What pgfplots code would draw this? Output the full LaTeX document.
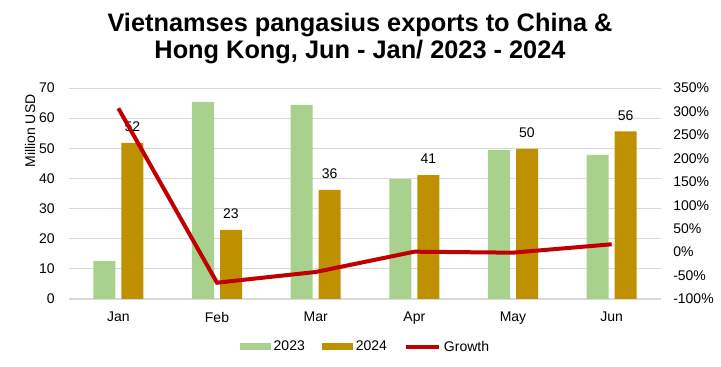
\documentclass[border=0pt]{standalone}
\usepackage{pgfplots}
\pgfplotsset{compat=1.18}
\usepackage{fontspec}
\setmainfont{Liberation Sans}
\definecolor{c23}{HTML}{A9D18E}
\definecolor{c24}{HTML}{BF9000}
\definecolor{cgr}{HTML}{C00000}
\definecolor{cgrid}{HTML}{D9D9D9}
\begin{document}
\begin{tikzpicture}[x=0.75pt,y=0.75pt]
\path[use as bounding box] (0,0) rectangle (721,367);
\node[font=\fontsize{19}{20.25}\selectfont\bfseries, align=center] at (360,328.5) {Vietnamses pangasius exports to China \&\\Hong Kong, Jun - Jan/ 2023 - 2024};
\node[rotate=90, font=\fontsize{10.5}{12}\selectfont] at (30,236) {Million USD};
\begin{axis}[
  at={(51.75pt,51pt)}, anchor=south west, scale only axis,
  width=444pt, height=158.25pt,
  xmin=-0.5, xmax=5.5, ymin=0, ymax=70,
  ytick={0,10,...,70},
  xtick=data, xticklabels={Jan,Feb,Mar,Apr,May,Jun},
  ybar=4.5pt, bar width=16.5pt,
  axis x line*=bottom, axis y line*=left,
  x axis line style={-, draw=cgrid, line width=1.5pt},
  y axis line style={draw=none},
  tick style={draw=none},
  ymajorgrids, grid style={cgrid, line width=0.75pt},
  /pgf/number format/assume math mode=true,
  tick label style={font=\fontsize{10.5}{12}\selectfont},
  yticklabel style={inner sep=0pt, xshift=-10.5pt},
  xticklabel style={inner sep=0pt, yshift=-5.5pt},
  legend style={at={(axis description cs:0.499,-0.2275)}, anchor=center, draw=none,
    legend columns=3, font=\fontsize{10.5}{12}\selectfont,
    nodes={inner sep=0pt},
    /tikz/every odd column/.append style={column sep=2.25pt},
    /tikz/every even column/.append style={column sep=12.75pt}},
]
\addplot[fill=c23, draw=none, legend image code/.code={\fill[c23] (0pt,-2.625pt) rectangle (23.25pt,2.625pt);}]
  coordinates {(0,12.6) (1,65.4) (2,64.4) (3,39.8) (4,49.4) (5,47.8)};
\addlegendentry{2023}
\addplot[fill=c24, draw=none, legend image code/.code={\fill[c24] (0pt,-2.625pt) rectangle (23.25pt,2.625pt);},
  nodes near coords={\pgfmathprintnumber[fixed,precision=0]{\pgfplotspointmeta}},
  every node near coord/.append style={anchor=base, yshift=8.5pt, inner sep=0pt, font=\fontsize{10.5}{12}\selectfont, text=black}]
  coordinates {(0,51.8) (1,22.9) (2,36.2) (3,41.1) (4,49.8) (5,55.6)};
\addlegendentry{2024}
\addlegendimage{legend image code/.code={\draw[cgr, line width=3pt] (0pt,0pt) -- (24.75pt,0pt);}}
\addlegendentry{Growth}
\end{axis}
\begin{axis}[
  at={(51.75pt,51pt)}, anchor=south west, scale only axis,
  width=444pt, height=158.25pt,
  xmin=-0.5, xmax=5.5, ymin=-100, ymax=350,
  ytick={-100,-50,...,350},
  yticklabel={\pgfmathprintnumber{\tick}\%},
  axis x line=none, axis y line*=right,
  y axis line style={draw=none},
  tick style={draw=none},
  /pgf/number format/assume math mode=true,
  tick label style={font=\fontsize{10.5}{12}\selectfont},
  yticklabel style={inner sep=0pt, xshift=9pt, anchor=west},
]
\addplot[cgr, line width=3pt] coordinates {(0,306.7) (1,-65.2) (2,-42.4) (3,0.9) (4,-1.2) (5,16.7)};
\end{axis}
\end{tikzpicture}
\end{document}
